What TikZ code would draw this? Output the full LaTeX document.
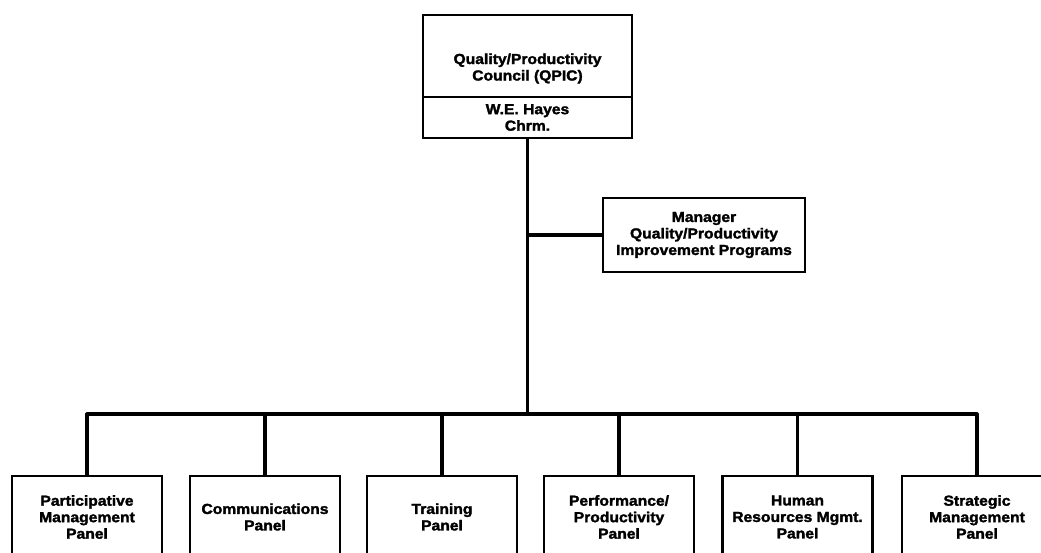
\documentclass[tikz,border=0pt]{standalone}
\usepackage{fontspec}
\newfontfamily\chartfont{Liberation Sans}[UprightFont={* Bold}, FakeStretch=1.08, FakeBold=2]
\tikzset{
  lbl/.style={font=\chartfont\fontsize{14.5}{16.5}\selectfont, align=center, inner sep=0pt},
  frame/.style={lbl, draw, line width=2.2pt},
  panel/.style={frame, minimum width=150pt, minimum height=82pt},
  link/.style={line width=3.2pt, line join=round}
}
\begin{document}
\begin{tikzpicture}[x=1pt, y=-1pt]
  \useasboundingbox (0,0) rectangle (1041,552);
  \fill[white] (0,0) rectangle (1041,552);
  \clip (0,0) rectangle (1041,552);

  % council and chairman
  \node[frame, minimum width=209pt, minimum height=82pt] (qpic) at (527.5,56) {};
  \node[lbl] (qpictxt) at (527.5,68.5) {Quality/Productivity\\Council (QPIC)};
  \node[frame, minimum width=209pt, minimum height=41pt] (chair) at (527.5,117.5) {W.E. Hayes\\Chrm.};

  % staff manager
  \node[frame, minimum width=202pt, minimum height=74pt] (mgr) at (704,235)
    {Manager\\Quality/Productivity\\Improvement Programs};

  % panels
  \node[panel] (p1) at (87,517) {Participative\\Management\\Panel};
  \node[panel] (p2) at (265,517) {Communications\\Panel};
  \node[panel] (p3) at (442,517) {Training\\Panel};
  \node[panel] (p4) at (619,517) {Performance/\\Productivity\\Panel};
  \node[panel] (p5) at (797.5,517) {Human\\Resources Mgmt.\\Panel};
  \node[panel] (p6) at (977,517) {Strategic\\Management\\Panel};

  % connectors
  \coordinate (busy) at (0,414);
  \draw[link] (chair.south) -- (chair.south |- busy);
  \draw[link] (chair.south |- mgr.west) -- (mgr.west);
  \draw[link] (p1.north) |- (p6.north |- busy) -- (p6.north);
  \foreach \p in {p2,p3,p4,p5}
    \draw[link] (\p.north) -- (\p.north |- busy);
\end{tikzpicture}
\end{document}
